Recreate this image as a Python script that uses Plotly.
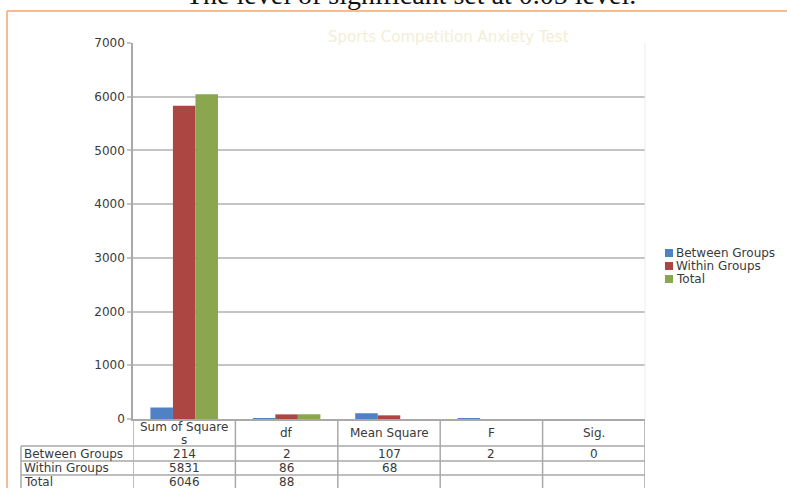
import plotly.graph_objects as go

# ---------------- data ----------------
categories = ["Sum of Squares", "df", "Mean Square", "F", "Sig."]
series_names = ["Between Groups", "Within Groups", "Total"]
between_groups = [214, 2, 107, 2, 0]
within_groups = [5831, 86, 68, None, None]
total = [6046, 88, None, None, None]
y_ticks = [0, 1000, 2000, 3000, 4000, 5000, 6000, 7000]
chart_title = "Sports Competition Anxiety Test"
page_text = "The level of significant set at 0.05 level."

series_values = [between_groups, within_groups, total]
colors = ["#4f81c4", "#ab4642", "#8aa74f"]

# ---------------- layout constants (pixels) ----------------
W, H = 787, 488
L, R, T, B = 133, 645, 43, 419


def px(x):
    return (x - L) / (R - L)


def py(y):
    return (B - y) / (B - T)


FONT = "DejaVu Sans"
FS = 12
TXT = "#3a3a3a"
GRID = "#c4c4c4"
TLINE = "#a9a9a9"

fig = go.Figure()
for name, vals, col in zip(series_names, series_values, colors):
    fig.add_trace(go.Bar(
        x=list(range(len(categories))), y=vals, name=name,
        marker=dict(color=col, line=dict(width=0)),
        showlegend=False,
    ))

shapes = []
annotations = []

# orange frame
shapes.append(dict(type="line", xref="paper", yref="paper",
                   x0=px(7), x1=px(800), y0=py(11), y1=py(11),
                   line=dict(color="#f5a66c", width=1.5)))
shapes.append(dict(type="line", xref="paper", yref="paper",
                   x0=px(7), x1=px(7), y0=py(11), y1=py(500),
                   line=dict(color="#f5a66c", width=1.5)))

# faint right border of plot area
shapes.append(dict(type="line", xref="paper", yref="paper",
                   x0=1, x1=1, y0=0, y1=1,
                   line=dict(color="#ececec", width=1)))

# data table lines
n = len(categories)
row_tops = [446, 461, 475, 489]
for k in range(n + 1):
    shapes.append(dict(type="line", xref="x", yref="paper",
                       x0=k - 0.5, x1=k - 0.5, y0=0, y1=py(500),
                       line=dict(color=TLINE, width=1.5)))
shapes.append(dict(type="line", xref="paper", yref="paper",
                   x0=px(21), x1=px(21), y0=py(row_tops[0]), y1=py(500),
                   line=dict(color=TLINE, width=1.5)))
for yy in row_tops:
    shapes.append(dict(type="line", xref="paper", yref="paper",
                       x0=px(21), x1=1, y0=py(yy), y1=py(yy),
                       line=dict(color=TLINE, width=1.5)))


def wrap(s, width=13):
    return [s[i:i + width] for i in range(0, len(s), width)]


# header cells
for k, cat in enumerate(categories):
    lines = wrap(cat)
    if len(lines) == 1:
        ys = [(B + row_tops[0]) / 2]
    else:
        ys = [427 + 13 * j for j in range(len(lines))]
    for line, yy in zip(lines, ys):
        annotations.append(dict(x=k, y=py(yy), xref="x", yref="paper",
                                text=line, showarrow=False,
                                xanchor="center", yanchor="middle",
                                font=dict(family=FONT, size=FS, color=TXT)))

# body cells
for r, (name, vals) in enumerate(zip(series_names, series_values)):
    yc = (row_tops[r] + row_tops[r + 1]) / 2
    annotations.append(dict(x=px(22), y=py(yc), xref="paper", yref="paper",
                            text=name, showarrow=False,
                            xanchor="left", yanchor="middle",
                            font=dict(family=FONT, size=FS, color=TXT)))
    for k, v in enumerate(vals):
        if v is None:
            continue
        annotations.append(dict(x=k, y=py(yc), xref="x", yref="paper",
                                text=f"{v:g}", showarrow=False,
                                xanchor="center", yanchor="middle",
                                font=dict(family=FONT, size=FS, color=TXT)))

# legend (manual)
leg_y = [253, 266, 279]
for name, col, yy in zip(series_names, colors, leg_y):
    shapes.append(dict(type="rect", xref="paper", yref="paper",
                       x0=px(665), x1=px(673), y0=py(yy + 4), y1=py(yy - 4),
                       fillcolor=col, line=dict(width=0)))
    annotations.append(dict(x=px(674), y=py(yy), xref="paper", yref="paper",
                            text=name, showarrow=False,
                            xanchor="left", yanchor="middle",
                            font=dict(family=FONT, size=FS, color=TXT)))

# chart title (very pale)
annotations.append(dict(x=px(448), y=py(37), xref="paper", yref="paper",
                        text=chart_title, showarrow=False,
                        xanchor="center", yanchor="middle",
                        font=dict(family=FONT, size=15, color="#f3eed6")))

# page text cut at the top
annotations.append(dict(x=px(411), y=py(12), xref="paper", yref="paper",
                        text=page_text, showarrow=False,
                        xanchor="center", yanchor="bottom",
                        font=dict(family="Liberation Serif", size=28, color="#111111")))

fig.update_layout(
    width=W, height=H, autosize=False,
    margin=dict(l=L, r=W - R, t=T, b=H - B, pad=0),
    paper_bgcolor="white", plot_bgcolor="white",
    barmode="group", bargap=0.34, bargroupgap=0,
    showlegend=False,
    shapes=shapes, annotations=annotations,
    xaxis=dict(range=[-0.5, n - 0.5], showticklabels=False, ticks="",
               showgrid=False, zeroline=False, showline=True,
               linecolor=TLINE, linewidth=1.5, fixedrange=True),
    yaxis=dict(range=[0, 7000], tickvals=y_ticks,
               ticktext=[str(v) for v in y_ticks],
               showgrid=True, gridcolor=GRID, gridwidth=1.5,
               zeroline=False, showline=True, linecolor=TLINE, linewidth=1.5,
               ticks="outside", ticklen=4, tickcolor=GRID, tickwidth=1.5,
               tickfont=dict(family=FONT, size=FS, color=TXT),
               fixedrange=True),
)

fig.write_html("out.html")
